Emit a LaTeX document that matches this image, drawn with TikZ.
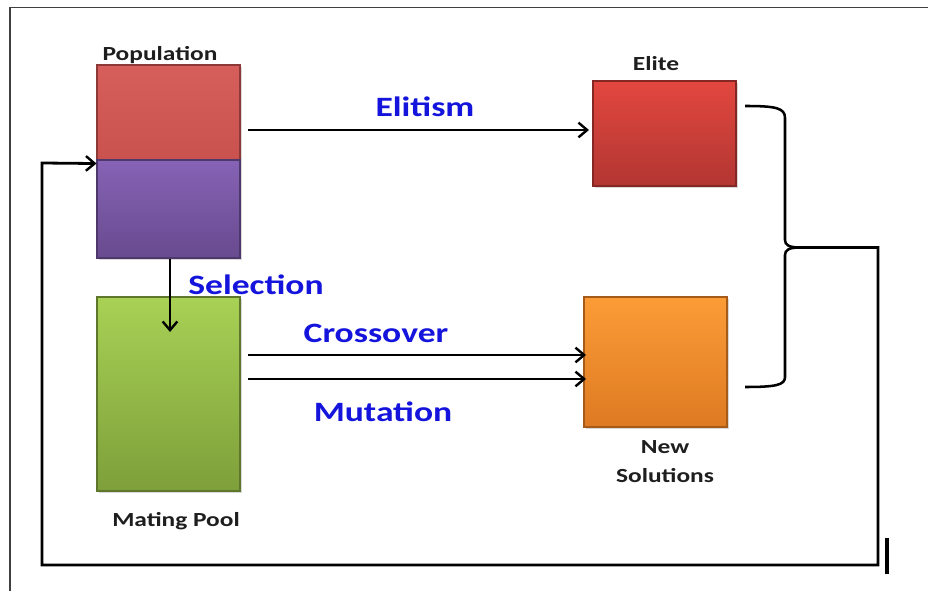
\documentclass[tikz,border=0pt]{standalone}
\usepackage{fontspec}
\usepackage{graphicx}
\setmainfont{Carlito}
\usetikzlibrary{arrows.meta,shadows}
\definecolor{popred}{HTML}{C9524E}
\definecolor{popredtop}{HTML}{D65F5B}
\definecolor{purpletop}{HTML}{8663B5}
\definecolor{purplebot}{HTML}{684A8F}
\definecolor{greentop}{HTML}{A8D155}
\definecolor{greenbot}{HTML}{7E9F3A}
\definecolor{elitetop}{HTML}{E2473F}
\definecolor{elitebot}{HTML}{B23632}
\definecolor{orangetop}{HTML}{FB9C37}
\definecolor{orangebot}{HTML}{DE7A22}
\definecolor{labblue}{HTML}{1414DC}
\definecolor{labblack}{HTML}{1E1E1E}
\tikzset{
  box/.style={rectangle, inner sep=0pt, line width=0.8pt,
    drop shadow={opacity=0.3, shadow xshift=1.5pt, shadow yshift=-1.5pt}},
  blk/.style={font=\bfseries\fontsize{15pt}{18pt}\selectfont, text=labblack, inner sep=0pt, align=center},
  blu/.style={font=\bfseries\fontsize{21pt}{24pt}\selectfont, text=labblue, inner sep=0pt},
  conn/.style={line width=2.1pt, draw=black},
  arr/.style={conn, -{Straight Barb[length=6.5pt,width=11pt,line width=1.8pt]}},
}
\newcommand{\wide}[1]{\scalebox{1.27}[1]{#1}}
\begin{document}
\begin{tikzpicture}[x=0.75pt,y=-0.75pt]
\useasboundingbox (0,0) rectangle (928,591);
\fill[white] (0,0) rectangle (928,591);
% frame lines (cropped)
\draw[line width=1.1pt, draw=black!75] (10,591) -- (10,7.5) -- (928,7.5);

% boxes
\node[box, minimum width=107.25pt, minimum height=71.25pt, top color=popredtop, bottom color=popred, draw=popred!70!black] (popTop) at (168.5,112.5) {};
\node[box, minimum width=107.25pt, minimum height=73.5pt, top color=purpletop, bottom color=purplebot, draw=purplebot!75!black] (popBot) at (168.5,209) {};
\node[box, minimum width=107.25pt, minimum height=78.75pt, top color=elitetop, bottom color=elitebot, draw=elitebot!75!black] (elite) at (664.5,133.5) {};
\node[box, minimum width=107.25pt, minimum height=145.5pt, top color=greentop, bottom color=greenbot, draw=greenbot!75!black] (mating) at (168.5,394) {};
\node[box, minimum width=107.25pt, minimum height=97.5pt, top color=orangetop, bottom color=orangebot, draw=orangebot!75!black] (newsol) at (655.5,362) {};

% black labels
\node[blk] (lpop) at (160,55) {\wide{Population}};
\node[blk] (lelite) at (656,64) {\wide{Elite}};
\node[blk] (lmating) at (176,521) {\wide{Mating Pool}};
\node[blk, font=\bfseries\fontsize{15pt}{21.75pt}\selectfont] (lnew) at (665,462) {\wide{New}\\\wide{Solutions}};

% blue labels
\node[blu] (lelitism) at (425,107) {\wide{Elitism}};
\node[blu] (lsel) at (256,285) {\wide{Selection}};
\node[blu] (lcross) at (376,333) {\wide{Crossover}};
\node[blu] (lmut) at (383,412) {\wide{Mutation}};

% arrows
\coordinate (elS) at (248,130);
\coordinate (elE) at (589,130);
\draw[arr] (elS) -- (elE);
\coordinate (selE) at (170,332);
\draw[arr] (popBot.south -| selE) -- (selE);
\coordinate (crS) at (248,355);
\coordinate (crE) at (586,355);
\coordinate (muS) at (248,379);
\coordinate (muE) at (586,379);
\draw[arr] (crS) -- (crE);
\draw[arr] (muS) -- (muE);

% brace
\coordinate (bTop) at (745,106);
\coordinate (bBot) at (745,387);
\coordinate (tip) at (800,247.5);
\draw[conn, line width=1.9pt] (bTop) .. controls (776,106) and (785,108) .. (785,118) -- (785,240)
   .. controls (785,245) and (789,247.5) .. (tip);
\draw[conn, line width=1.9pt] (tip) .. controls (789,247.5) and (785,250) .. (785,255) -- (785,377)
   .. controls (785,385) and (776,387) .. (bBot);

% feedback loop
\coordinate (c1) at (878,247.5);
\coordinate (c2) at (878,565);
\coordinate (c3) at (42,565);
\coordinate (c4) at (42,163);
\draw[arr, line join=miter] (tip) -- (c1) -- (c2) -- (c3) -- (c4) -- ([yshift=-2.25pt]popTop.south west);

% stray bar
\coordinate (barT) at (887,538);
\coordinate (barB) at (887,574);
\draw[line width=2.4pt] (barT) -- (barB);
\end{tikzpicture}
\end{document}
